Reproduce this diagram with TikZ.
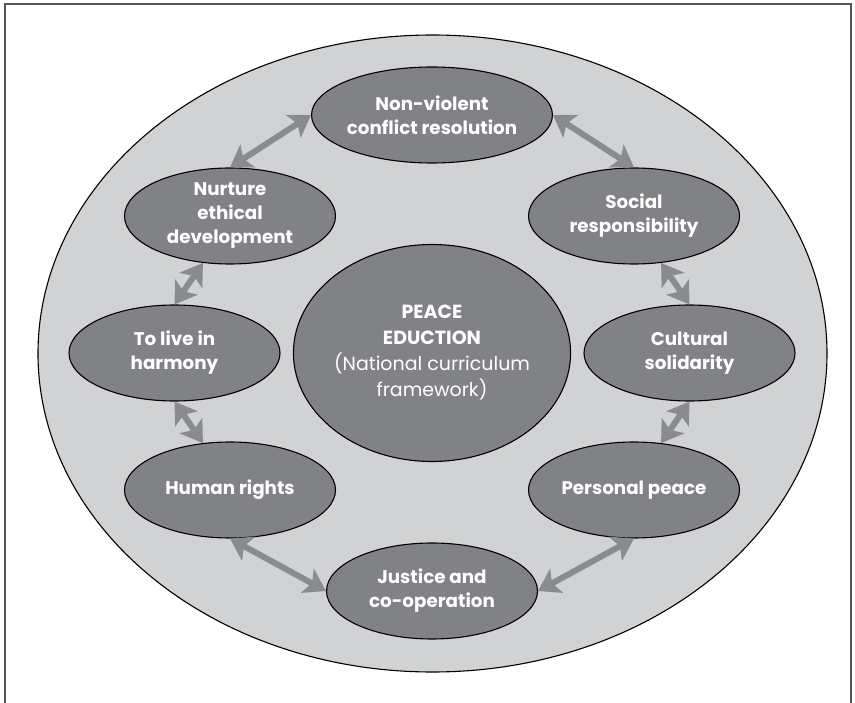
\documentclass[tikz,border=0pt]{standalone}
\usepackage{fontspec}
\setmainfont{Poppins}
\usetikzlibrary{arrows.meta,shapes.geometric}
\definecolor{ringgray}{HTML}{D1D2D4}
\definecolor{blobgray}{HTML}{808285}
\definecolor{linkgray}{HTML}{8A8B8E}
\definecolor{framegray}{HTML}{555555}

\begin{document}
\begin{tikzpicture}[x=1pt, y=-1pt,
  blob/.style={draw, ellipse, fill=blobgray, line width=1.1pt, minimum width=211pt, minimum height=96pt, inner sep=0pt, text=white, align=center, font=\bfseries\fontsize{18.3}{24}\selectfont},
  link/.style={draw=linkgray, line width=6pt, {Stealth[length=21pt,width=27pt,inset=5pt]}-{Stealth[length=21pt,width=27pt,inset=5pt]}}]
\useasboundingbox (0,0) rectangle (855,703);
\draw[framegray, line width=2pt] (5,703) -- (5,4) -- (851,4) -- (851,703);
\node[ellipse, draw, fill=ringgray, line width=1.1pt, minimum width=789pt, minimum height=637pt] (ring) at (432.5,353.5) {};

% centre
\node[blob, minimum width=255pt, minimum height=217pt, font=\fontsize{19}{26}\selectfont] (core) at (432,353) {\textbf{PEACE}\\\textbf{EDUCTION}\\(National curriculum\\framework)};

% outer ring of values
\node[blob] (nv) at (432,115) {Non-violent\\conflict resolution};
\node[blob] (sr) at (634,216) {Social\\responsibility};
\node[blob] (cs) at (689.5,353) {Cultural\\solidarity};
\node[blob] (pp) at (634,490) {Personal peace};
\node[blob] (jc) at (432,591) {Justice and\\co-operation};
\node[blob] (hr) at (230,490) {Human rights};
\node[blob] (tl) at (174.5,353) {To live in\\harmony};
\node[blob] (ne) at (230,216) {Nurture\\ethical\\development};

\foreach \a/\b in {ne.north/nv.west, nv.east/sr.north, sr.-60/cs.north, cs.south/pp.60, pp.south/jc.east, jc.west/hr.south, hr.120/tl.south, tl.north/ne.-120}
  \draw[link] (\a) -- (\b);
\end{tikzpicture}
\end{document}
